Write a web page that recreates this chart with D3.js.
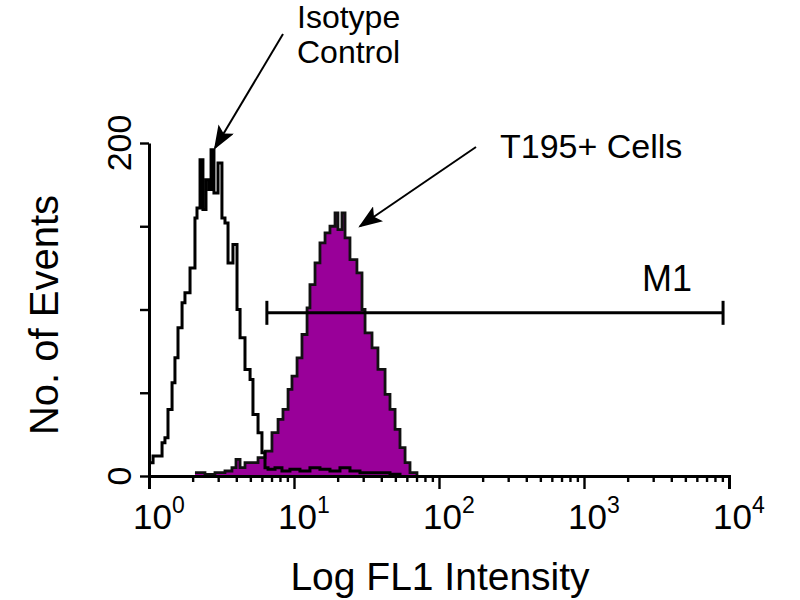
<!DOCTYPE html>
<html>
<head>
<meta charset="utf-8">
<script src="https://cdn.jsdelivr.net/npm/d3@7"></script>
<style>
  html, body { margin: 0; padding: 0; background: #fff; }
  svg { display: block; font-family: "Liberation Sans", Arial, Helvetica, sans-serif; }
</style>
</head>
<body>
<svg id="chart" width="800" height="600"></svg>
<script>
// ---- Data ----
// Isotype control histogram: bin start (log10 FL1) and event counts
const isoLog = [0.000,0.028,0.090,0.110,0.131,0.159,0.179,0.200,0.228,0.248,0.283,0.317,0.331,0.352,0.372,0.393,0.414,0.428,0.448,0.476,0.503,0.524,0.545,0.579,0.607,0.628,0.662,0.697,0.717,0.752,0.779,0.800,0.821,0.869,0.917,0.972,1.041,1.110,1.179,1.248,1.317,1.386,1.455,1.559,1.662,1.731];
const isoCount = [8,12,20,23,40,56,71,89,104,110,125,155,161,190,160,178,172,196,170,188,155,152,128,139,100,83,64,58,37,26,14,5,4,5,3,4,3,5,4,3,5,3,2,2,1,0];
// T195+ cells histogram
const t195Log = [0.317,0.386,0.455,0.524,0.572,0.600,0.628,0.662,0.752,0.800,0.848,0.890,0.924,0.959,0.986,1.021,1.055,1.090,1.110,1.145,1.179,1.214,1.248,1.283,1.303,1.331,1.352,1.386,1.434,1.469,1.490,1.538,1.579,1.628,1.662,1.697,1.731,1.766,1.800,1.848];
const t195Count = [2,1,2,3,5,10,5,8,11,15,26,34,40,52,60,71,85,101,115,128,140,146,150,158,148,158,143,130,122,100,86,77,64,49,40,28,17,8,2,0];
// Marker M1 (gate range in FL1 intensity, drawn at a count level)
const m1Range = [6.5, 9100];
const m1Level = 98;
// Axis ticks
const xMajorTicks = [1, 10, 100, 1000, 10000];
const xTickExponents = ["0", "1", "2", "3", "4"];
const yTicks = [0, 50, 100, 150, 200];
const yLabelTicks = [0, 200];
// Annotation labels
const isoLabel = ["Isotype", "Control"];
const t195Label = "T195+ Cells";

// ---- Chart ----
const svg = d3.select("#chart");
const x = d3.scaleLog().domain([1, 10000]).range([149, 729]);
const y = d3.scaleLinear().domain([0, 200]).range([476, 143]);

const iso = isoLog.map((l, i) => ({ v: Math.pow(10, l), c: isoCount[i] }));
const t195 = t195Log.map((l, i) => ({ v: Math.pow(10, l), c: t195Count[i] }));

// T195+ filled histogram
svg.append("path")
  .datum(t195)
  .attr("d", d3.area().curve(d3.curveStepAfter).x(d => x(d.v)).y0(y(0)).y1(d => y(d.c)))
  .attr("fill", "#990099")
  .attr("stroke", "none");
svg.append("path")
  .datum(t195)
  .attr("d", d3.line().curve(d3.curveStepAfter).x(d => x(d.v)).y(d => y(d.c)))
  .attr("fill", "none")
  .attr("stroke", "#111")
  .attr("stroke-width", 2.8);

// Isotype outline histogram
svg.append("path")
  .datum(iso)
  .attr("d", d3.line().curve(d3.curveStepAfter).x(d => x(d.v)).y(d => y(d.c)))
  .attr("fill", "none")
  .attr("stroke", "#000")
  .attr("stroke-width", 3);

// Axes
const minor = [];
for (let d = 1; d < 10000; d *= 10) for (let k = 2; k <= 9; k++) minor.push(d * k);

const gxMinor = svg.append("g").attr("transform", `translate(0,${y(0)})`)
  .call(d3.axisBottom(x).tickValues(minor).tickSize(6).tickFormat(""));
const gxMajor = svg.append("g").attr("transform", `translate(0,${y(0)})`)
  .call(d3.axisBottom(x).tickValues(xMajorTicks).tickSize(13).tickFormat(""));
[gxMinor, gxMajor].forEach(g => {
  g.selectAll("path").attr("stroke", "#000").attr("stroke-width", 3);
  g.selectAll("line").attr("stroke", "#000").attr("stroke-width", 2.4);
});

const gy = svg.append("g").attr("transform", `translate(${x(1)},0)`)
  .call(d3.axisLeft(y).tickValues(yTicks).tickSize(9).tickSizeOuter(0).tickFormat(""));
gy.selectAll("path").attr("stroke", "#000").attr("stroke-width", 3);
gy.selectAll("line").attr("stroke", "#000").attr("stroke-width", 2.4);

// X tick labels with superscripts
xMajorTicks.forEach((t, i) => {
  const tx = svg.append("text")
    .attr("x", x(t) - 16)
    .attr("y", 529)
    .attr("font-size", 35)
    .attr("fill", "#000");
  tx.append("tspan").text("10");
  tx.append("tspan").attr("dy", -16).attr("font-size", 23).text(xTickExponents[i]);
});

// Y tick labels (rotated)
yLabelTicks.forEach(t => {
  svg.append("text")
    .attr("transform", `translate(131,${y(t)}) rotate(-90)`)
    .attr("text-anchor", "middle")
    .attr("font-size", 34)
    .attr("fill", "#000")
    .text(t);
});

// Axis titles
svg.append("text")
  .attr("x", 440).attr("y", 590)
  .attr("text-anchor", "middle")
  .attr("font-size", 39)
  .attr("fill", "#000")
  .text("Log FL1 Intensity");
svg.append("text")
  .attr("transform", "translate(58,315) rotate(-90)")
  .attr("text-anchor", "middle")
  .attr("font-size", 40)
  .attr("fill", "#000")
  .text("No. of Events");

// M1 marker
const m1 = svg.append("g").attr("stroke", "#000").attr("stroke-width", 3);
m1.append("line").attr("x1", x(m1Range[0])).attr("x2", x(m1Range[1])).attr("y1", y(m1Level)).attr("y2", y(m1Level));
m1Range.forEach(v => {
  m1.append("line").attr("x1", x(v)).attr("x2", x(v)).attr("y1", y(m1Level) - 12).attr("y2", y(m1Level) + 12);
});
svg.append("text")
  .attr("x", x(m1Range[1]) - 81).attr("y", y(m1Level) - 22)
  .attr("font-size", 36)
  .attr("fill", "#000")
  .text("M1");

// Arrows
const defs = svg.append("defs");
defs.append("marker")
  .attr("id", "arrow")
  .attr("viewBox", "0 0 24 18")
  .attr("refX", 22).attr("refY", 9)
  .attr("markerWidth", 24).attr("markerHeight", 18)
  .attr("markerUnits", "userSpaceOnUse")
  .attr("orient", "auto")
  .append("path")
  .attr("d", "M0,0 L24,9 L0,18 L5,9 Z")
  .attr("fill", "#000");

// Isotype label + arrow
const isoText = svg.append("text").attr("font-size", 32).attr("fill", "#000");
isoLabel.forEach((s, i) => {
  isoText.append("tspan").attr("x", 297).attr("y", 28 + i * 35).text(s);
});
svg.append("line")
  .attr("x1", 283).attr("y1", 34)
  .attr("x2", x(2.85)).attr("y2", y(197))
  .attr("stroke", "#000").attr("stroke-width", 2)
  .attr("marker-end", "url(#arrow)");

// T195+ label + arrow
svg.append("text")
  .attr("x", 500).attr("y", 158)
  .attr("font-size", 34)
  .attr("fill", "#000")
  .text(t195Label);
svg.append("line")
  .attr("x1", 476).attr("y1", 147)
  .attr("x2", x(28.5)).attr("y2", y(150))
  .attr("stroke", "#000").attr("stroke-width", 2)
  .attr("marker-end", "url(#arrow)");
</script>
</body>
</html>
